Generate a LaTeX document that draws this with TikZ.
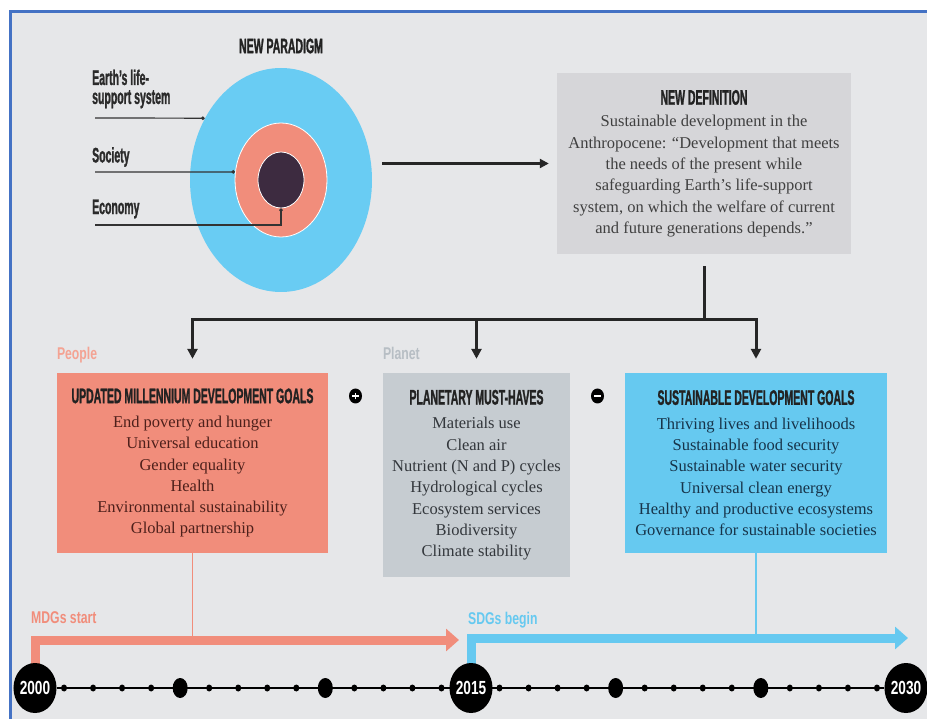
\documentclass[tikz,border=0pt]{standalone}
\usepackage{fontspec}
\setmainfont{Liberation Serif}
\newfontfamily\headfont[FakeStretch=0.5,FakeBold=1.2]{Liberation Sans}
\newfontfamily\yearfont[FakeStretch=0.72]{Liberation Sans}
\usetikzlibrary{shapes.geometric,arrows.meta,backgrounds}
\pgfdeclarelayer{back}
\pgfsetlayers{back,background,main}

\definecolor{bggray}{HTML}{E6E7E9}
\definecolor{framecol}{HTML}{4472C4}
\definecolor{earthblue}{HTML}{69CCF3}
\definecolor{salmon}{HTML}{F18D7B}
\definecolor{econcol}{HTML}{3D2B40}
\definecolor{defgray}{HTML}{D6D6D9}
\definecolor{planetgray}{HTML}{C6CCD1}
\definecolor{sdgblue}{HTML}{66C9F0}
\definecolor{headcol}{HTML}{222222}
\definecolor{labelcol}{HTML}{2B2B2B}
\definecolor{deftext}{HTML}{404040}
\definecolor{mdgtext}{HTML}{4E201B}
\definecolor{planettext}{HTML}{33373C}
\definecolor{sdgtext}{HTML}{17344A}
\definecolor{peoplecol}{HTML}{F4A393}
\definecolor{planetlbl}{HTML}{B7BEC4}
\definecolor{linecol}{HTML}{333333}

\newcommand{\boxhead}{\headfont\bfseries\fontsize{21}{21}\selectfont\color{headcol}}

\tikzset{
  ring/.style={ellipse, draw=white, line width=0.8pt, inner sep=0pt},
  head/.style={font=\headfont\bfseries\fontsize{21}{21}\selectfont, text=headcol},
  circlelabel/.style={font=\headfont\bfseries\fontsize{21}{19}\selectfont, text=labelcol, inner sep=0pt},
  tag/.style={font=\yearfont\bfseries\fontsize{17}{17}\selectfont, inner sep=0pt},
  goalbox/.style={rectangle, inner sep=0pt, align=center, font=\fontsize{16.5}{21.3}\selectfont},
  pointer/.style={draw=linecol, line width=1.2pt, -{Circle[length=3.5pt]}},
  link/.style={line width=3pt, draw=black!85},
  down/.style={link, -{Triangle[length=10pt,width=10pt]}},
  sign/.style={ellipse, fill=black, minimum width=13pt, minimum height=15pt, inner sep=0pt},
  yearnode/.style={ellipse, fill=black, minimum width=37pt, minimum height=50pt, inner sep=0pt,
    text=white, font=\yearfont\bfseries\fontsize{19}{19}\selectfont},
  bigtick/.style={ellipse, fill=black, minimum width=15pt, minimum height=20pt, inner sep=0pt},
  smalltick/.style={ellipse, fill=black, minimum width=6pt, minimum height=7pt, inner sep=0pt},
  period/.style={line width=9pt, -{Triangle[length=13pt,width=22pt]}},
}

\begin{document}
\begin{tikzpicture}[x=1pt,y=-1pt]
  \useasboundingbox (0,0) rectangle (927,719);
  \begin{pgfonlayer}{back}
    \fill[bggray] (12,13) rectangle (927,719);
    \draw[framecol, line width=3pt] (10.5,719) -- (10.5,12) -- (927,12);
  \end{pgfonlayer}

  % new paradigm
  \node[head] (paradigm) at (281,46) {NEW PARADIGM};
  \node[ring, draw=none, fill=earthblue, minimum width=182pt, minimum height=224pt] (earth) at (281,180) {};
  \node[ring, fill=salmon, minimum width=92pt, minimum height=114pt] (society) at (281,180) {};
  \node[ring, fill=econcol, minimum width=46pt, minimum height=56pt] (economy) at (281,180) {};

  \node[circlelabel, anchor=west, align=left] (earthlbl) at (92,89) {Earth’s life-\\support system};
  \node[circlelabel, anchor=west] (societylbl) at (92,157) {Society};
  \node[circlelabel, anchor=west] (economylbl) at (92,209) {Economy};
  \coordinate (earthline) at (95,118);
  \coordinate (societyline) at (95,172);
  \coordinate (economyline) at (95,225);
  \draw[pointer] (earthline) -- (earth.141);
  \draw[pointer] (societyline) -- (society.170);
  \draw[pointer] (economyline) -| (economy.south);

  % new definition
  \node[goalbox, fill=defgray, text=deftext, minimum width=294pt, minimum height=181pt] (definition) at (704,163.5)
    {{\boxhead NEW DEFINITION}\\[1pt]
     Sustainable development in the\\
     Anthropocene: “Development that meets\\
     the needs of the present while\\
     safeguarding Earth’s life-support\\
     system, on which the welfare of current\\
     and future generations depends.”};
  \draw[link, -{Triangle[length=9pt,width=9pt]}, shorten <=10pt, shorten >=8pt]
    (earth.east |- definition.west) -- (definition.west);

  % goals
  \node[goalbox, fill=salmon, text=mdgtext, minimum width=271pt, minimum height=180pt] (mdg) at (192.5,463)
    {{\boxhead UPDATED MILLENNIUM DEVELOPMENT GOALS}\\[3pt]
     End poverty and hunger\\
     Universal education\\
     Gender equality\\
     Health\\
     Environmental sustainability\\
     Global partnership};
  \node[goalbox, fill=planetgray, text=planettext, minimum width=187pt, minimum height=204pt] (planet) at (476.5,475)
    {{\boxhead PLANETARY MUST-HAVES}\\[3pt]
     Materials use\\
     Clean air\\
     Nutrient (N and P) cycles\\
     Hydrological cycles\\
     Ecosystem services\\
     Biodiversity\\
     Climate stability};
  \node[goalbox, fill=sdgblue, text=sdgtext, minimum width=262pt, minimum height=180pt] (sdg) at (756,463)
    {{\boxhead SUSTAINABLE DEVELOPMENT GOALS}\\[3pt]
     Thriving lives and livelihoods\\
     Sustainable food security\\
     Sustainable water security\\
     Universal clean energy\\
     Healthy and productive ecosystems\\
     Governance for sustainable societies};
  \node[tag, text=peoplecol, anchor=base west] (people) at ([yshift=13pt]mdg.north west) {People};
  \node[tag, text=planetlbl, anchor=base west] (planetword) at ([yshift=13pt]planet.north west) {Planet};

  \node[sign] (plus) at (355.5,396) {};
  \node[sign] (minus) at (597.5,396) {};
  \draw[white, line width=1.8pt] ([xshift=-3.3pt]plus.center) -- ([xshift=3.3pt]plus.center)
    ([yshift=-3.3pt]plus.center) -- ([yshift=3.3pt]plus.center);
  \draw[white, line width=2.2pt] ([xshift=-3.5pt]minus.center) -- ([xshift=3.5pt]minus.center);

  \coordinate (split) at (704,320);
  \draw[link, shorten <=12pt] (definition.south) -- (split);
  \draw[link, line cap=rect] (mdg.north |- split) -- (sdg.north |- split);
  \foreach \goal in {mdg,planet,sdg}
    \draw[down, shorten >=14pt] (\goal.north |- split) -- (\goal.north);

  % timeline
  \node[yearnode] (y2000) at (35,688) {2000};
  \node[yearnode] (y2015) at (471,688) {2015};
  \node[yearnode] (y2030) at (906,688) {2030};
  \foreach \i in {1,...,29} {
    \pgfmathtruncatemacro{\r}{mod(\i,5)}
    \ifnum\r=0
      \ifnum\i=15 \else \node[bigtick] (tick\i) at ({35+29.033*\i},688) {}; \fi
    \else
      \node[smalltick] (tick\i) at ({35+29.033*\i},688) {};
    \fi
  }
  \coordinate (mdgend) at (459,640);
  \coordinate (sdgend) at (908,638);
  \begin{pgfonlayer}{background}
    \draw[line width=2pt] (y2000) -- (y2030);
    \draw[salmon, line width=1.2pt] (mdg.south) -- (mdg.south |- mdgend);
    \draw[sdgblue, line width=1.2pt] (sdg.south) -- (sdg.south |- sdgend);
    \draw[period, salmon] (y2000.center) |- (mdgend);
    \draw[period, sdgblue] (y2015.center) |- (sdgend);
  \end{pgfonlayer}
  \node[tag, text=salmon, anchor=base west] (mdgstart) at (31,623) {MDGs start};
  \node[tag, text=sdgblue, anchor=base west] (sdgbegin) at (468,624) {SDGs begin};
\end{tikzpicture}
\end{document}
